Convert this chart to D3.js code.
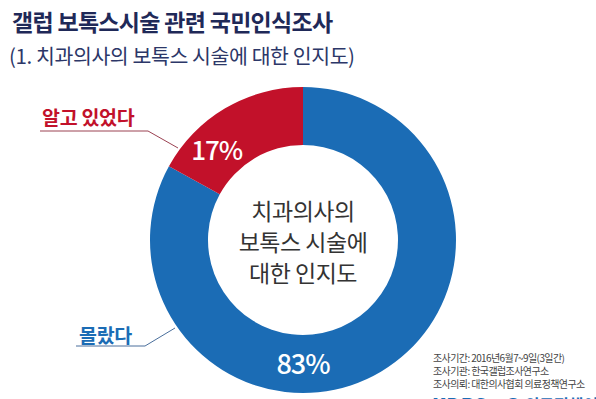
<!DOCTYPE html>
<html>
<head>
<meta charset="utf-8">
<script src="https://d3js.org/d3.v7.min.js"></script>
<style>
  body { margin: 0; background: #fff; }
  text { font-family: "Noto Sans CJK KR", "Noto Sans", sans-serif; }
</style>
</head>
<body>
<div id="cont"></div>
<script>
// data
var categories = ["몰랐다", "알고 있었다"];
var values = [83, 17];
var colors = ["#1b6cb5", "#c2112a"];
var notes = ["조사기간: 2016년6월7~9일(3일간)", "조사기관: 한국갤럽조사연구소", "조사의뢰: 대한의사협회 의료정책연구소"];

var width = 596, height = 399;
var cx = 303, cy = 240, rOut = 153, rIn = 95;

var svg = d3.select("#cont").append("svg")
    .attr("width", width)
    .attr("height", height);

// title
svg.append("text")
    .attr("x", 12).attr("y", 31)
    .attr("font-size", 23).attr("font-weight", 700)
    .attr("letter-spacing", -0.7)
    .attr("fill", "#1f2958")
    .text("갤럽 보톡스시술 관련 국민인식조사");
svg.append("text")
    .attr("x", 9).attr("y", 64)
    .attr("font-size", 20.5).attr("font-weight", 400)
    .attr("letter-spacing", -0.4)
    .attr("fill", "#2c3768")
    .text("(1. 치과의사의 보톡스 시술에 대한 인지도)");

var pie = d3.pie().sort(null).value(function (d) { return d; });
var arc = d3.arc().innerRadius(rIn).outerRadius(rOut);
var arcs = pie(values);

var g = svg.append("g").attr("transform", "translate(" + cx + "," + cy + ")");
g.selectAll("path.slice")
    .data(arcs)
    .enter().append("path")
    .attr("class", "slice")
    .attr("d", arc)
    .attr("fill", function (d, i) { return colors[i]; });

// percent labels (placed at fixed angle in ring)
var labelAngle = [Math.PI, -Math.PI * 0.245];
var rLab = 124;
g.selectAll("text.pct")
    .data(arcs)
    .enter().append("text")
    .attr("class", "pct")
    .attr("x", function (d, i) { return rLab * Math.sin(labelAngle[i]); })
    .attr("y", function (d, i) { return -rLab * Math.cos(labelAngle[i]); })
    .attr("dy", "0.36em")
    .attr("text-anchor", "middle")
    .attr("font-size", function (d, i) { return i == 0 ? 27 : 26; })
    .attr("font-weight", 500)
    .attr("letter-spacing", -1)
    .attr("fill", "#fff")
    .text(function (d) { return d.value + "%"; });

// center text
var centerLines = ["치과의사의", "보톡스 시술에", "대한 인지도"];
g.selectAll("text.center")
    .data(centerLines)
    .enter().append("text")
    .attr("class", "center")
    .attr("x", 0)
    .attr("y", function (d, i) { return -28 + i * 31; })
    .attr("dy", "0.36em")
    .attr("text-anchor", "middle")
    .attr("font-size", 23)
    .attr("letter-spacing", -0.5)
    .attr("fill", "#333")
    .text(function (d) { return d; });

// callouts
var callouts = [
    { tx: 79, ty: 343, x0: 76, x1: 145, ly: 346, ex: 175, ey: 328, col: "#1b6cb5", lcol: "#4a6f9c" },
    { tx: 42, ty: 125, x0: 40, x1: 148, ly: 131, ex: 178, ey: 148, col: "#c2112a", lcol: "#9b4252" }
];
callouts.forEach(function (c, i) {
    svg.append("text")
        .attr("x", c.tx).attr("y", c.ty)
        .attr("font-size", 19.5).attr("font-weight", 700)
        .attr("letter-spacing", -0.3)
        .attr("fill", c.col)
        .text(categories[i]);
    svg.append("polyline")
        .attr("points", [[c.x0, c.ly], [c.x1, c.ly], [c.ex, c.ey]].map(function (p) { return p.join(","); }).join(" "))
        .attr("fill", "none")
        .attr("stroke", c.lcol)
        .attr("stroke-width", 1);
});

// notes
svg.selectAll("text.note")
    .data(notes)
    .enter().append("text")
    .attr("class", "note")
    .attr("x", 433)
    .attr("y", function (d, i) { return 362 + i * 13; })
    .attr("font-size", 10)
    .attr("letter-spacing", -0.6)
    .attr("fill", "#444")
    .text(function (d) { return d; });

// logo (cut off at bottom, as in the source)
svg.append("text")
    .attr("x", 432).attr("y", 413)
    .attr("font-size", 20).attr("font-weight", 900)
    .attr("fill", "#1b6cb5")
    .text("KDPS");
svg.append("text")
    .attr("x", 505).attr("y", 411)
    .attr("font-size", 16).attr("font-weight", 700)
    .attr("fill", "#1b6cb5")
    .text("● 의료정책연구소");
</script>
</body>
</html>
